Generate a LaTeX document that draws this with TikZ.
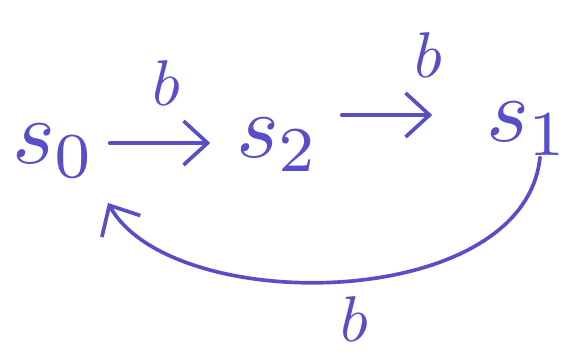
\documentclass[tikz,border=0pt]{standalone}
\usepackage{amsmath}
\usetikzlibrary{arrows.meta}
\definecolor{ink}{RGB}{88,78,200}

\tikzset{
    state/.style={scale=6.5, text=ink, inner sep=0pt},
    lbl/.style={scale=4.6, text=ink, inner sep=0pt},
    hand/.style={ink, line width=2.6pt, line cap=round,
        -{Straight Barb[length=6mm,width=11mm,line width=2.6pt]}}
}

\begin{document}
\begin{tikzpicture}
    \useasboundingbox (0,0) rectangle (14.15,8.825);
    % the three states
        \node[state] (s0) at (1.35, 5.05) {$s_0$};
        \node[state] (s2) at (6.95, 5.2) {$s_2$};
        \node[state] (s1) at (13.2, 5.6) {$s_1$};
        \coordinate (back) at (2.7, 3.75);
    % transitions
        \draw[hand, shorten <=0.3cm, shorten >=0.6cm]
            ([yshift=2mm]s0.east) -- ([yshift=2mm]s0.east -| s2.west);
        \draw[hand, shorten <=0.5cm, shorten >=1.3cm]
            ([yshift=7.5mm]s2.east) -- ([yshift=7.5mm]s2.east -| s1.west);
        \draw[hand] ([xshift=3mm]s1.south) .. controls (13.1,1.0) and (4.3,0.9) .. (back);
    % labels
        \node[lbl] (b01) at (4.15, 6.75) {$b$};
        \node[lbl] (b21) at (10.7, 7.45) {$b$};
        \node[lbl] (b10) at (8.85, 0.85) {$b$};
\end{tikzpicture}
\end{document}
